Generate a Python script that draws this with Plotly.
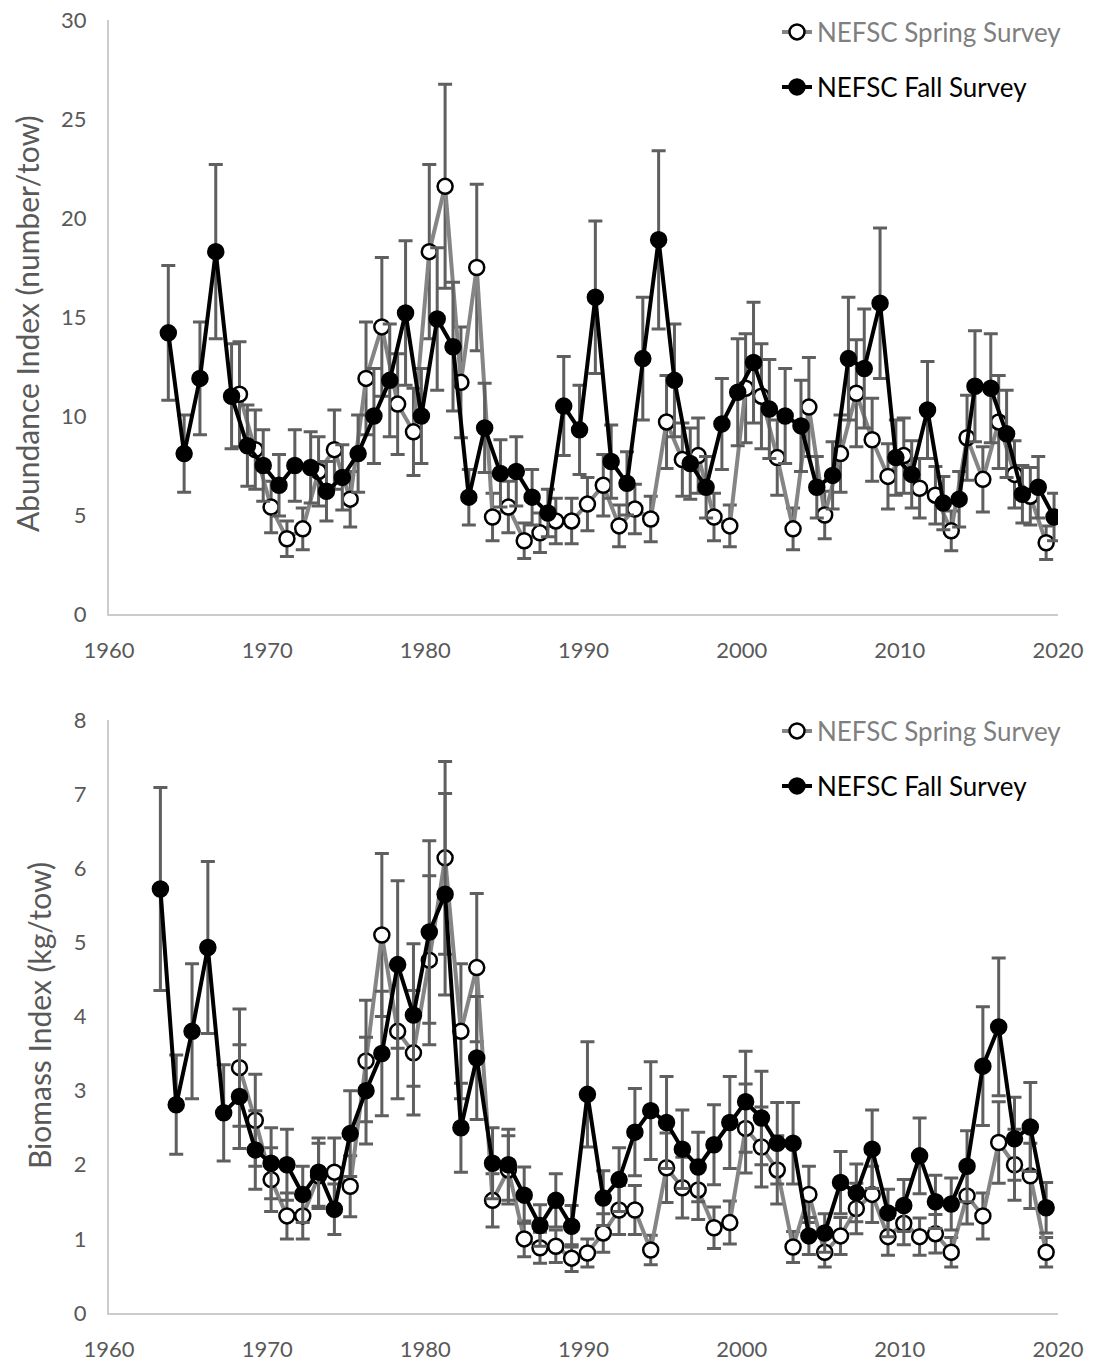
import plotly.graph_objects as go

# ---------------- data ----------------
spring_years = list(range(1968, 2020))
fall_years = list(range(1963, 2020))

abund_spring = [11.1, 8.3, 5.4, 3.8, 4.3, 7.2, 8.3, 5.8, 11.9, 14.5,
                10.6, 9.2, 18.3, 21.6, 11.7, 17.5, 4.9, 5.4, 3.7, 4.1,
                4.7, 4.7, 5.55, 6.5, 4.45, 5.3, 4.8, 9.7, 7.8, 8.0,
                4.9, 4.45, 11.4, 11.0, 7.9, 4.3, 10.45, 5.0, 8.1, 11.15,
                8.8, 6.95, 8.0, 6.35, 6.0, 4.2, 8.9, 6.8, 9.7, 7.05,
                5.95, 3.6]
abund_spring_err = [2.65, 2.0, 1.3, 0.9, 1.05, 1.75, 2.0, 1.4, 2.85, 3.5,
                    2.55, 2.2, 4.4, 5.15, 2.8, 4.2, 1.2, 1.3, 0.9, 1.0,
                    1.15, 1.15, 1.35, 1.55, 1.05, 1.25, 1.15, 2.35, 1.85, 1.9,
                    1.2, 1.05, 2.75, 2.65, 1.9, 1.05, 2.5, 1.2, 1.95, 2.7,
                    2.1, 1.65, 1.9, 1.5, 1.45, 1.0, 2.15, 1.65, 2.35, 1.7,
                    1.45, 0.85]

abund_fall = [14.2, 8.1, 11.9, 18.3, 11.0, 8.5, 7.5, 6.5, 7.5, 7.4,
              6.2, 6.9, 8.1, 10.0, 11.8, 15.2, 10.0, 14.9, 13.5, 5.9,
              9.4, 7.1, 7.2, 5.9, 5.1, 10.5, 9.3, 16.0, 7.7, 6.6,
              12.9, 18.9, 11.8, 7.6, 6.4, 9.6, 11.2, 12.7, 10.35, 10.0,
              9.5, 6.4, 7.0, 12.9, 12.4, 15.7, 7.9, 7.05, 10.3, 5.6,
              5.8, 11.5, 11.4, 9.1, 6.05, 6.4, 4.9]
abund_fall_err = [3.4, 1.95, 2.85, 4.4, 2.65, 2.05, 1.8, 1.55, 1.8, 1.8,
                  1.5, 1.65, 1.95, 2.4, 2.85, 3.65, 2.4, 3.6, 3.25, 1.4,
                  2.25, 1.7, 1.75, 1.4, 1.2, 2.5, 2.25, 3.85, 1.85, 1.6,
                  3.1, 4.5, 2.85, 1.8, 1.55, 2.3, 2.7, 3.05, 2.5, 2.4,
                  2.3, 1.55, 1.7, 3.1, 3.0, 3.8, 1.9, 1.7, 2.45, 1.35,
                  1.4, 2.8, 2.75, 2.2, 1.45, 1.55, 1.2]

bio_spring = [3.31, 2.6, 1.8, 1.31, 1.31, 1.85, 1.9, 1.71, 3.4, 5.1,
              3.8, 3.51, 4.76, 6.14, 3.8, 4.66, 1.52, 1.93, 1.0, 0.88,
              0.9, 0.74, 0.81, 1.08, 1.39, 1.39, 0.85, 1.96, 1.69, 1.66,
              1.15, 1.22, 2.49, 2.24, 1.93, 0.89, 1.6, 0.82, 1.04, 1.41,
              1.6, 1.03, 1.21, 1.03, 1.07, 0.82, 1.58, 1.31, 2.3, 2.0,
              1.85, 0.82]
bio_spring_err = [0.79, 0.62, 0.43, 0.31, 0.31, 0.44, 0.46, 0.41, 0.82, 1.1,
                  0.91, 0.84, 1.14, 1.3, 0.91, 1.0, 0.36, 0.46, 0.24, 0.21,
                  0.22, 0.18, 0.19, 0.26, 0.33, 0.33, 0.2, 0.47, 0.41, 0.4,
                  0.28, 0.29, 0.6, 0.54, 0.46, 0.21, 0.38, 0.2, 0.25, 0.34,
                  0.38, 0.25, 0.29, 0.25, 0.26, 0.2, 0.38, 0.31, 0.55, 0.48,
                  0.44, 0.2]

bio_fall = [5.72, 2.81, 3.8, 4.93, 2.7, 2.92, 2.2, 2.02, 2.0, 1.6,
            1.9, 1.4, 2.42, 3.0, 3.5, 4.7, 4.02, 5.14, 5.65, 2.5,
            3.44, 2.02, 2.0, 1.59, 1.18, 1.52, 1.17, 2.95, 1.55, 1.8,
            2.44, 2.73, 2.57, 2.21, 1.97, 2.27, 2.57, 2.85, 2.63, 2.29,
            2.29, 1.04, 1.08, 1.76, 1.62, 2.21, 1.35, 1.45, 2.12, 1.5,
            1.47, 1.98, 3.33, 3.86, 2.35, 2.51, 1.42]
bio_fall_err = [1.37, 0.67, 0.91, 1.16, 0.65, 0.7, 0.53, 0.48, 0.48, 0.38,
                0.46, 0.34, 0.58, 0.72, 0.84, 1.13, 0.96, 1.23, 1.36, 0.6,
                0.83, 0.48, 0.48, 0.38, 0.28, 0.36, 0.28, 0.71, 0.37, 0.43,
                0.59, 0.66, 0.62, 0.53, 0.47, 0.54, 0.62, 0.68, 0.63, 0.55,
                0.55, 0.25, 0.26, 0.42, 0.39, 0.53, 0.32, 0.35, 0.51, 0.36,
                0.35, 0.48, 0.8, 0.93, 0.56, 0.6, 0.34]

x_ticks = [1960, 1970, 1980, 1990, 2000, 2010, 2020]

# ---------------- style ----------------
FONT = "Lato"
GRAY_TXT = "#595959"
SPRING_LINE = "#858585"
ERR_COLOR = "#5f5f5f"
AXIS_LINE = "#cccccc"

# survey timing within the year (spring early, fall late)
top_spring_off, top_fall_off = 0.25, 0.75
bot_off = 0.25


def err(vals):
    return dict(type="data", array=vals, visible=True, color=ERR_COLOR,
                thickness=3, width=7)


def spring_trace(x, y, e, xa, ya, leg):
    return go.Scatter(x=x, y=y, mode="lines+markers", name="NEFSC Spring Survey",
                      line=dict(color=SPRING_LINE, width=4),
                      marker=dict(symbol="circle", size=15, color="white",
                                  line=dict(color="black", width=2.5)),
                      error_y=err(e), xaxis=xa, yaxis=ya, legend=leg,
                      showlegend=True)


def fall_trace(x, y, e, xa, ya, leg):
    return go.Scatter(x=x, y=y, mode="lines+markers", name="NEFSC Fall Survey",
                      line=dict(color="black", width=4),
                      marker=dict(symbol="circle", size=15, color="black",
                                  line=dict(color="black", width=2.5)),
                      error_y=err(e), xaxis=xa, yaxis=ya, legend=leg,
                      showlegend=True)


fig = go.Figure()
fig.add_trace(spring_trace([yr + top_spring_off for yr in spring_years], abund_spring,
                           abund_spring_err, "x", "y", "legend"))
fig.add_trace(fall_trace([yr + top_fall_off for yr in fall_years], abund_fall,
                         abund_fall_err, "x", "y", "legend2"))
fig.add_trace(spring_trace([yr + bot_off for yr in spring_years], bio_spring,
                           bio_spring_err, "x2", "y2", "legend3"))
fig.add_trace(fall_trace([yr + bot_off for yr in fall_years], bio_fall,
                         bio_fall_err, "x2", "y2", "legend4"))

W, H = 1096, 1367
PLOT_L, PLOT_R, PLOT_T, PLOT_B = 109, 1058, 20, 1313
ML, MR, MT, MB = PLOT_L, W - PLOT_R, PLOT_T, H - PLOT_B
PH = H - MT - MB
PW = W - ML - MR


def py(p):  # pixel y -> paper y
    return 1 - (p - PLOT_T) / PH


def px_(p):  # pixel x -> paper x
    return (p - PLOT_L) / PW


top_dom = [py(614), 1.0]
bot_dom = [0.0, py(720)]

tickfont = dict(family=FONT, size=22, color=GRAY_TXT)
xcommon = dict(range=[1960, 2020], tickvals=x_ticks, showline=True, linecolor=AXIS_LINE,
               linewidth=2, showgrid=False, zeroline=False, ticks="",
               tickfont=tickfont, ticklabelstandoff=16, ticklabeloverflow="allow")
ycommon = dict(showline=True, linecolor=AXIS_LINE, linewidth=2, showgrid=False,
               zeroline=False, ticks="", tickfont=tickfont, ticklabelstandoff=16,
               ticklabeloverflow="allow")


def legend_cfg(ypx, color):
    return dict(x=px_(777), y=py(ypx), xanchor="left", yanchor="middle",
                bgcolor="rgba(0,0,0,0)", borderwidth=0,
                font=dict(family=FONT, size=26, color=color),
                itemwidth=30, tracegroupgap=0, visible=True)


fig.update_layout(
    width=W, height=H,
    showlegend=True,
    margin=dict(l=ML, r=MR, t=MT, b=MB, autoexpand=False),
    paper_bgcolor="white", plot_bgcolor="white",
    font=dict(family=FONT, color=GRAY_TXT),
    xaxis=dict(domain=[0, 1], anchor="y", **xcommon),
    yaxis=dict(domain=top_dom, anchor="x", range=[0, 30], dtick=5, **ycommon),
    xaxis2=dict(domain=[0, 1], anchor="y2", **xcommon),
    yaxis2=dict(domain=bot_dom, anchor="x2", range=[0, 8], dtick=1, **ycommon),
    legend=legend_cfg(32, "#7f7f7f"),
    legend2=legend_cfg(87, "#000000"),
    legend3=legend_cfg(731, "#7f7f7f"),
    legend4=legend_cfg(786, "#000000"),
    annotations=[
        dict(text="Abundance Index (number/tow)", xref="paper", yref="paper",
             x=px_(27), y=py(324), xanchor="center",
             yanchor="middle", textangle=-90, showarrow=False,
             font=dict(family=FONT, size=30, color=GRAY_TXT)),
        dict(text="Biomass Index (kg/tow)", xref="paper", yref="paper",
             x=px_(39), y=py(1016), xanchor="center",
             yanchor="middle", textangle=-90, showarrow=False,
             font=dict(family=FONT, size=30, color=GRAY_TXT)),
    ],
)

# remove the default page margin so the figure fills the window exactly
fig.write_html("out.html", config={"displayModeBar": False},
               post_script="document.body.style.margin='0';document.body.style.overflow='hidden';")
